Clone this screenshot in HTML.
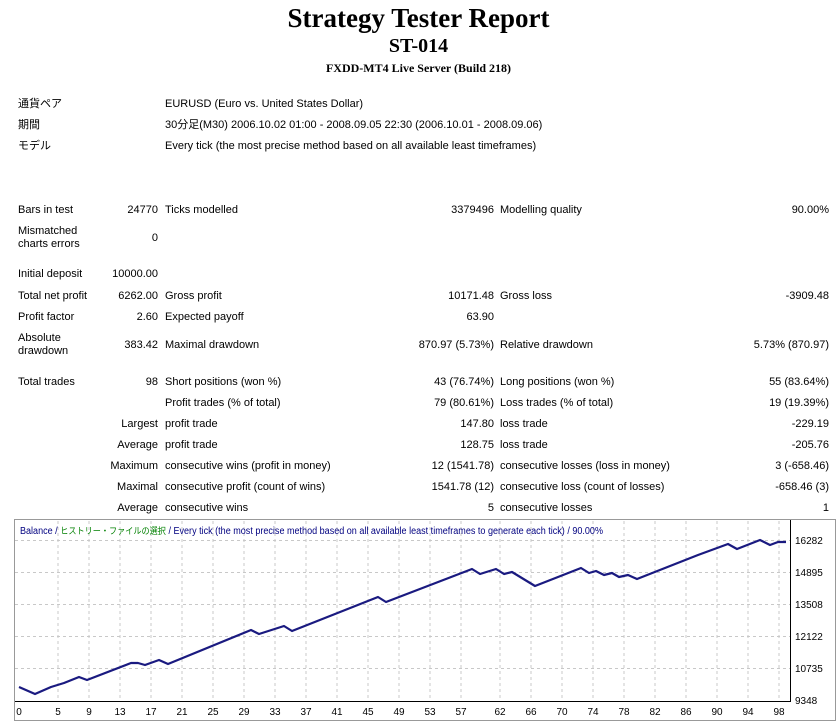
<!DOCTYPE html>
<html><head><meta charset="utf-8"><style>
body{margin:0;width:837px;height:722px;background:#fff;position:relative;overflow:hidden;font-family:"Liberation Sans","Noto Sans CJK JP",sans-serif;font-size:11px;color:#000}
.t{position:absolute;white-space:nowrap;line-height:13px}
.r{text-align:right}
.h{position:absolute;left:0;width:837px;text-align:center;font-family:"Liberation Serif",serif;font-weight:bold}
</style></head><body>
<div class="h" style="top:3px;font-size:27px">Strategy Tester Report</div>
<div class="h" style="top:35px;font-size:20px">ST-014</div>
<div class="h" style="top:61px;font-size:12px">FXDD-MT4 Live Server (Build 218)</div>

<div class="t" style="left:18px;top:98px">通貨ペア</div><div class="t" style="left:165px;top:98px">EURUSD (Euro vs. United States Dollar)</div>
<div class="t" style="left:18px;top:119px">期間</div><div class="t" style="left:165px;top:119px">30分足(M30) 2006.10.02 01:00 - 2008.09.05 22:30 (2006.10.01 - 2008.09.06)</div>
<div class="t" style="left:18px;top:140px">モデル</div><div class="t" style="left:165px;top:140px">Every tick (the most precise method based on all available least timeframes)</div>

<div class="t" style="left:18px;top:204px">Bars in test</div><div class="t r" style="right:679px;top:204px">24770</div><div class="t" style="left:165px;top:204px">Ticks modelled</div><div class="t r" style="right:343px;top:204px">3379496</div><div class="t" style="left:500px;top:204px">Modelling quality</div><div class="t r" style="right:8px;top:204px">90.00%</div>
<div class="t" style="left:18px;top:225px">Mismatched<br>charts errors</div><div class="t r" style="right:679px;top:232px">0</div>
<div class="t" style="left:18px;top:268px">Initial deposit</div><div class="t r" style="right:679px;top:268px">10000.00</div>
<div class="t" style="left:18px;top:290px">Total net profit</div><div class="t r" style="right:679px;top:290px">6262.00</div><div class="t" style="left:165px;top:290px">Gross profit</div><div class="t r" style="right:343px;top:290px">10171.48</div><div class="t" style="left:500px;top:290px">Gross loss</div><div class="t r" style="right:8px;top:290px">-3909.48</div>
<div class="t" style="left:18px;top:311px">Profit factor</div><div class="t r" style="right:679px;top:311px">2.60</div><div class="t" style="left:165px;top:311px">Expected payoff</div><div class="t r" style="right:343px;top:311px">63.90</div>
<div class="t" style="left:18px;top:332px">Absolute<br>drawdown</div><div class="t r" style="right:679px;top:339px">383.42</div><div class="t" style="left:165px;top:339px">Maximal drawdown</div><div class="t r" style="right:343px;top:339px">870.97 (5.73%)</div><div class="t" style="left:500px;top:339px">Relative drawdown</div><div class="t r" style="right:8px;top:339px">5.73% (870.97)</div>
<div class="t" style="left:18px;top:376px">Total trades</div><div class="t r" style="right:679px;top:376px">98</div><div class="t" style="left:165px;top:376px">Short positions (won %)</div><div class="t r" style="right:343px;top:376px">43 (76.74%)</div><div class="t" style="left:500px;top:376px">Long positions (won %)</div><div class="t r" style="right:8px;top:376px">55 (83.64%)</div>
<div class="t" style="left:165px;top:397px">Profit trades (% of total)</div><div class="t r" style="right:343px;top:397px">79 (80.61%)</div><div class="t" style="left:500px;top:397px">Loss trades (% of total)</div><div class="t r" style="right:8px;top:397px">19 (19.39%)</div>
<div class="t r" style="right:679px;top:418px">Largest</div><div class="t" style="left:165px;top:418px">profit trade</div><div class="t r" style="right:343px;top:418px">147.80</div><div class="t" style="left:500px;top:418px">loss trade</div><div class="t r" style="right:8px;top:418px">-229.19</div>
<div class="t r" style="right:679px;top:439px">Average</div><div class="t" style="left:165px;top:439px">profit trade</div><div class="t r" style="right:343px;top:439px">128.75</div><div class="t" style="left:500px;top:439px">loss trade</div><div class="t r" style="right:8px;top:439px">-205.76</div>
<div class="t r" style="right:679px;top:460px">Maximum</div><div class="t" style="left:165px;top:460px">consecutive wins (profit in money)</div><div class="t r" style="right:343px;top:460px">12 (1541.78)</div><div class="t" style="left:500px;top:460px">consecutive losses (loss in money)</div><div class="t r" style="right:8px;top:460px">3 (-658.46)</div>
<div class="t r" style="right:679px;top:481px">Maximal</div><div class="t" style="left:165px;top:481px">consecutive profit (count of wins)</div><div class="t r" style="right:343px;top:481px">1541.78 (12)</div><div class="t" style="left:500px;top:481px">consecutive loss (count of losses)</div><div class="t r" style="right:8px;top:481px">-658.46 (3)</div>
<div class="t r" style="right:679px;top:502px">Average</div><div class="t" style="left:165px;top:502px">consecutive wins</div><div class="t r" style="right:343px;top:502px">5</div><div class="t" style="left:500px;top:502px">consecutive losses</div><div class="t r" style="right:8px;top:502px">1</div>

<svg style="position:absolute;left:0;top:0" width="837" height="722">
<rect x="14.5" y="519.5" width="821" height="201" fill="#fff" stroke="#999"/>
<g stroke="#c8c8c8" stroke-dasharray="3,3" stroke-width="1">
<line x1="15" x2="790" y1="540.5" y2="540.5"/><line x1="15" x2="790" y1="572.5" y2="572.5"/><line x1="15" x2="790" y1="604.5" y2="604.5"/><line x1="15" x2="790" y1="636.5" y2="636.5"/><line x1="15" x2="790" y1="668.5" y2="668.5"/>
<line x1="58" x2="58" y1="521" y2="701"/><line x1="89" x2="89" y1="521" y2="701"/><line x1="120" x2="120" y1="521" y2="701"/><line x1="151" x2="151" y1="521" y2="701"/><line x1="182" x2="182" y1="521" y2="701"/><line x1="213" x2="213" y1="521" y2="701"/><line x1="244" x2="244" y1="521" y2="701"/><line x1="275" x2="275" y1="521" y2="701"/><line x1="306" x2="306" y1="521" y2="701"/><line x1="337" x2="337" y1="521" y2="701"/><line x1="368" x2="368" y1="521" y2="701"/><line x1="399" x2="399" y1="521" y2="701"/><line x1="430" x2="430" y1="521" y2="701"/><line x1="461" x2="461" y1="521" y2="701"/><line x1="500" x2="500" y1="521" y2="701"/><line x1="531" x2="531" y1="521" y2="701"/><line x1="562" x2="562" y1="521" y2="701"/><line x1="593" x2="593" y1="521" y2="701"/><line x1="624" x2="624" y1="521" y2="701"/><line x1="655" x2="655" y1="521" y2="701"/><line x1="686" x2="686" y1="521" y2="701"/><line x1="717" x2="717" y1="521" y2="701"/><line x1="748" x2="748" y1="521" y2="701"/><line x1="779" x2="779" y1="521" y2="701"/>
</g>
<line x1="790.5" x2="790.5" y1="520" y2="702" stroke="#000"/>
<line x1="15" x2="791" y1="701.5" y2="701.5" stroke="#000"/>
<polyline fill="none" stroke="#1a1a80" stroke-width="2.2" stroke-linejoin="round" points="19,687 35,694 51,687 64,683 79,677 87,680 131,663 138,663 145,665 159,660 168,664 251,630 259,634 284,626 292,631 378,597 386,602 472,569 480,574 496,569 504,574 512,572 535,586 581,568 589,573 596,571 604,575 612,573 619,577 628,575 637,579 698,555 728,544 737,549 760,540 770,545 778,542 786,542"/>
<g font-size="10" font-family="Liberation Sans,sans-serif">
<text x="20" y="534" fill="#000080" textLength="583" lengthAdjust="spacingAndGlyphs">Balance / <tspan fill="#008000" font-family="Noto Sans CJK JP,sans-serif" font-size="9">ヒストリー・ファイルの選択</tspan> / Every tick (the most precise method based on all available least timeframes to generate each tick) / 90.00%</text>
<g fill="#000"><text x="795" y="544">16282</text><text x="795" y="576">14895</text><text x="795" y="608">13508</text><text x="795" y="640">12122</text><text x="795" y="672">10735</text><text x="795" y="704">9348</text></g>
<g fill="#000" text-anchor="middle">
<text x="19" y="715">0</text><text x="58" y="715">5</text><text x="89" y="715">9</text><text x="120" y="715">13</text><text x="151" y="715">17</text><text x="182" y="715">21</text><text x="213" y="715">25</text><text x="244" y="715">29</text><text x="275" y="715">33</text><text x="306" y="715">37</text><text x="337" y="715">41</text><text x="368" y="715">45</text><text x="399" y="715">49</text><text x="430" y="715">53</text><text x="461" y="715">57</text><text x="500" y="715">62</text><text x="531" y="715">66</text><text x="562" y="715">70</text><text x="593" y="715">74</text><text x="624" y="715">78</text><text x="655" y="715">82</text><text x="686" y="715">86</text><text x="717" y="715">90</text><text x="748" y="715">94</text><text x="779" y="715">98</text>
</g></g>
</svg>
</body></html>
